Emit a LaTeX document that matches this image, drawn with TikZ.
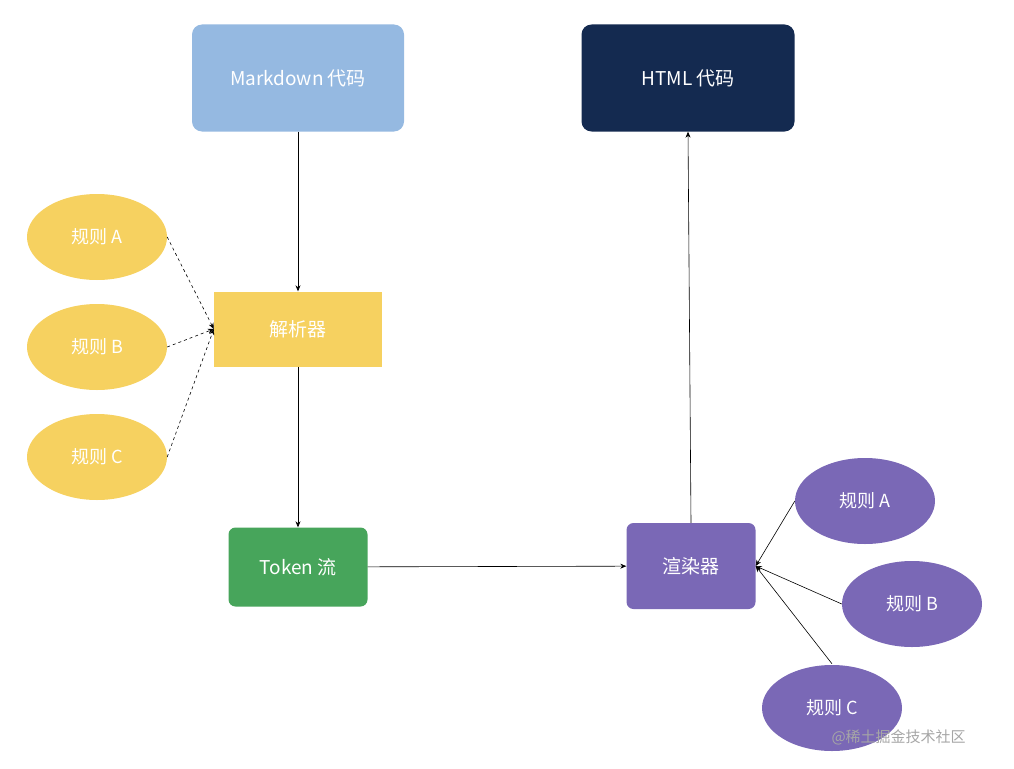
\documentclass[tikz,border=0pt]{standalone}
\usepackage{fontspec}
\setmainfont{Noto Sans CJK SC}
\usetikzlibrary{shapes.geometric,arrows.meta}
\definecolor{mdblue}{HTML}{95B9E1}
\definecolor{navy}{HTML}{142A50}
\definecolor{ylw}{HTML}{F6D160}
\definecolor{grn}{HTML}{47A55B}
\definecolor{purp}{HTML}{7A68B6}
\begin{document}
\begin{tikzpicture}[x=1pt,y=-1pt,
  box/.style={draw=none,rounded corners=10pt,text=white,font=\fontsize{19}{22}\selectfont,inner sep=0pt},
  ell/.style={ellipse,draw=none,text=white,font=\fontsize{18}{22}\selectfont,minimum width=140pt,minimum height=86pt,inner sep=0pt},
  arr/.style={-{Stealth[length=6pt,width=5pt]},black,line width=0.6pt}]
\useasboundingbox (0,0) rectangle (1014,768);
\node[box,fill=mdblue,minimum width=212pt,minimum height=107pt] (md) at (298,78) {Markdown 代码};
\node[box,fill=navy,minimum width=213pt,minimum height=107pt] (html) at (688,78) {HTML 代码};
\node[box,fill=ylw,rounded corners=0pt,minimum width=168pt,minimum height=75pt] (parser) at (298,329) {解析器};
\node[box,fill=grn,rounded corners=7pt,minimum width=139pt,minimum height=79pt] (tok) at (298,567) {Token 流};
\node[box,fill=purp,rounded corners=7pt,minimum width=129pt,minimum height=86pt] (ren) at (691,566) {渲染器};
\node[ell,fill=ylw] (ya) at (97,237) {规则 A};
\node[ell,fill=ylw] (yb) at (97,347) {规则 B};
\node[ell,fill=ylw] (yc) at (97,457) {规则 C};
\node[ell,fill=purp] (pa) at (865,501) {规则 A};
\node[ell,fill=purp] (pb) at (912,604) {规则 B};
\node[ell,fill=purp] (pc) at (832,708) {规则 C};
\draw[arr] (md) -- (parser);
\draw[arr] (parser) -- (tok);
\draw[arr] (tok) -- (ren);
\draw[arr] (ren.north) -- (html.south);
\foreach \e in {ya,yb,yc} \draw[arr,dashed] (\e.east) -- (parser.west);
\draw[arr] (pa.west) -- (ren.east);
\draw[arr] (pb.west) -- (ren.east);
\draw[arr] (pc.north) ++(0,-1) -- (ren.east);
\node[text=gray!70,font=\fontsize{15}{18}\selectfont,anchor=west] (wm) at (828,737) {@稀土掘金技术社区};
\end{tikzpicture}
\end{document}
